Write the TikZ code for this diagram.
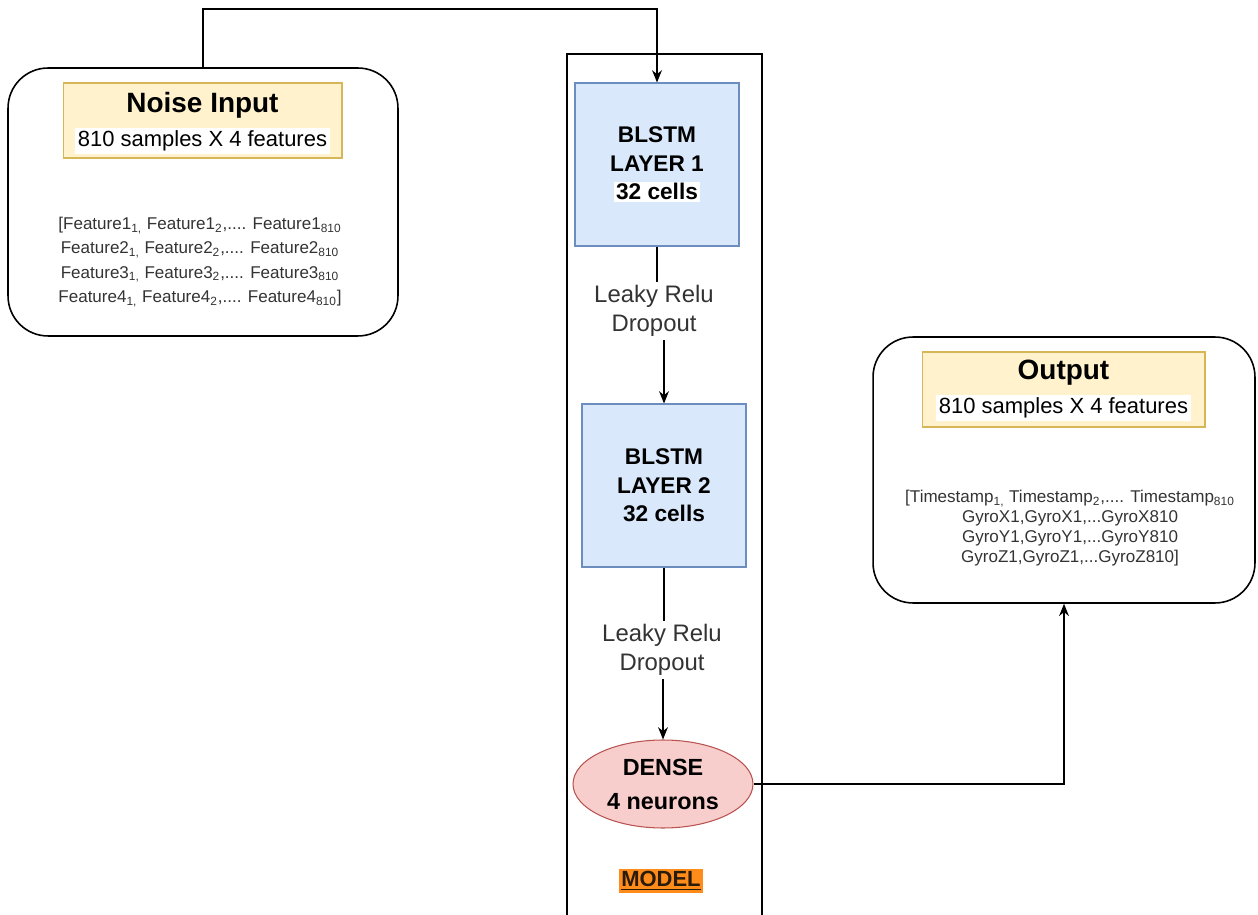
\documentclass[tikz,border=0pt]{standalone}
\usepackage{fontspec}
\setmainfont{Liberation Sans}
\usepackage{tikz}
\usetikzlibrary{arrows.meta, shapes.geometric}

\definecolor{headfill}{HTML}{FFF2CC}
\definecolor{headline}{HTML}{D6B656}
\definecolor{lstmfill}{HTML}{DAE8FC}
\definecolor{lstmline}{HTML}{6C8EBF}
\definecolor{densefill}{HTML}{F8CECC}
\definecolor{denseline}{HTML}{B85450}
\definecolor{modelfill}{HTML}{FF8C1A}
\definecolor{modeltxt}{HTML}{2A1A08}
\definecolor{txtgray}{HTML}{333333}

\tikzset{
    iobox/.style={draw, line width=0.9pt, rounded corners=0.8cm},
    headbox/.style={draw=headline, fill=headfill, line width=0.6pt},
    headtitle/.style={font=\fontsize{15.9}{19}\selectfont\bfseries, inner sep=0pt},
    headsub/.style={font=\fontsize{12.5}{15}\selectfont, fill=white, inner sep=1.5pt},
    datatext/.style={font=\fontsize{9.7}{#1}\selectfont, text=txtgray, align=center, inner sep=0pt},
    lstmbox/.style={draw=lstmline, fill=lstmfill, line width=0.6pt,
        minimum width=3.28cm, minimum height=3.26cm, align=center,
        font=\fontsize{12.9}{16.2}\selectfont\bfseries},
    actlabel/.style={font=\fontsize{13.6}{16.4}\selectfont, text=txtgray, align=center, inner sep=2pt},
    conn/.style={line width=0.75pt},
    arr/.style={conn, -{Stealth[length=7pt, width=5.6pt]}},
}

\begin{document}
\begin{tikzpicture}[x=0.02cm, y=-0.02cm]
\useasboundingbox (0,0) rectangle (1258,915);
\clip (0,0) rectangle (1258,915);

% model frame, runs off the bottom edge
\node[draw, line width=0.8pt, minimum width=3.9cm, minimum height=17.44cm] (modelframe) at (664.5,490) {};

% input block
\node[iobox, minimum width=7.8cm, minimum height=5.36cm] (noise) at (203,202) {};
\node[headbox, minimum width=5.58cm, minimum height=1.5cm] (noisehead) at (202.5,120.5) {};
\node[headtitle] (noisetitle) at (202.5,105) {Noise Input};
\node[headsub] (noisesub) at (202.5,141) {810 samples X 4 features};
\node[datatext=13.9pt] (noisedata) at (200,262) {%
    [Feature1\textsubscript{1,} Feature1\textsubscript{2},.... Feature1\textsubscript{810}\\
    Feature2\textsubscript{1,} Feature2\textsubscript{2},.... Feature2\textsubscript{810}\\
    Feature3\textsubscript{1,} Feature3\textsubscript{2},.... Feature3\textsubscript{810}\\
    Feature4\textsubscript{1,} Feature4\textsubscript{2},.... Feature4\textsubscript{810}]};

% output block
\node[iobox, minimum width=7.64cm, minimum height=5.32cm] (outbox) at (1064,470) {};
\node[headbox, minimum width=5.66cm, minimum height=1.5cm] (outhead) at (1063.5,389.5) {};
\node[headtitle] (outtitle) at (1063.5,373) {Output};
\node[headsub] (outsub) at (1063.5,408) {810 samples X 4 features};
\node[datatext=11.3pt] (outdata) at (1070,528) {%
    [Timestamp\textsubscript{1,} Timestamp\textsubscript{2},.... Timestamp\textsubscript{810}\\
    GyroX1,GyroX1,...GyroX810\\
    GyroY1,GyroY1,...GyroY810\\
    GyroZ1,GyroZ1,...GyroZ810]};

% model layers
\node[lstmbox] (l1) at (657,164.5) {BLSTM\\LAYER 1\\{\setlength\fboxsep{1pt}\colorbox{white}{32 cells}}};
\node[actlabel] (lr1) at (654,311) {Leaky Relu\\Dropout};
\node[lstmbox] (l2) at (664,485.5) {BLSTM\\LAYER 2\\32 cells};
\node[actlabel] (lr2) at (662,650) {Leaky Relu\\Dropout};
\node[ellipse, draw=denseline, fill=densefill, line width=0.6pt,
    minimum width=3.6cm, minimum height=1.76cm, align=center,
    font=\fontsize{13.3}{19.3}\selectfont\bfseries] (dense) at (663,784) {DENSE\\4 neurons};
\node[fill=modelfill, inner sep=1.5pt, text=modeltxt,
    font=\fontsize{12.5}{15}\selectfont\bfseries] (modeltag) at (661,881) {\underline{MODEL}};

% connectors
\coordinate (turn) at (203,9);
\draw[arr] (noise.north) -- (turn) -| (l1.north);
\draw[conn] (l1.south) -- (l1.south |- lr1.north);
\draw[arr] (lr1.south -| l2.north) -- (l2.north);
\draw[conn] (l2.south) -- (l2.south |- lr2.north);
\draw[arr] (lr2.south -| dense.north) -- (dense.north);
\draw[arr] (dense.east) -| (outbox.south);
\end{tikzpicture}
\end{document}
